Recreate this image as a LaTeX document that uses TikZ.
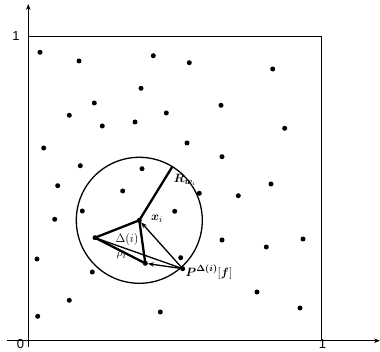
\documentclass[tikz,border=0pt]{standalone}
\usepackage{amsmath}
\usepackage{fontspec}
\newfontfamily\numfont{Liberation Sans}
\usetikzlibrary{arrows.meta}
\begin{document}
\begin{tikzpicture}[x=1pt,y=-1pt,
  dot/.style={circle,fill=black,inner sep=0pt,minimum size=5pt},
  axis/.style={line width=1.2pt,-{Stealth[length=6pt,width=4.5pt]}},
  thickl/.style={line width=2.3pt},
  thinl/.style={line width=1.3pt},
  arr/.style={line width=1.3pt,-{Stealth[length=6pt,width=4.5pt]}},
  num/.style={font=\numfont\fontsize{13}{15}\selectfont,inner sep=0pt},
  lab/.style={inner sep=0pt,font=\fontsize{13}{15}\selectfont}]
\useasboundingbox (0,0) rectangle (380,352);
% axes
\coordinate (xs) at (7,340.7);
\coordinate (xe) at (380,340.7);
\coordinate (ys) at (28.3,347);
\coordinate (ye) at (28.3,4);
\draw[axis] (xs) -- (xe);
\draw[axis] (ys) -- (ye);
% square
\coordinate (tl) at (28.3,36.7);
\coordinate (tr) at (321.7,36.7);
\coordinate (br) at (321.7,340.7);
\draw[line width=1.2pt] (tl) -- (tr) -- (br);
% axis labels
\node[num] (l1y) at (16,36) {1};
\node[num] (l0) at (20.5,344.5) {0};
\node[num] (l1x) at (322.5,344.5) {1};
% dots
\foreach \p [count=\k] in {(40,52.3),(79,61),(153.3,55.7),(189.3,62.7),(272.7,69),
  (141,88.3),(94.3,103),(221,105.3),(69.3,115.3),(166.3,113),(102.3,126),(135,122),
  (284.7,128.3),(43.7,148),(187,143),(222,156.7),(80.3,165.7),(142,168.7),(271,184),
  (57.7,185.7),(122.7,191),(199.3,193.3),(238.3,195.7),(82.3,211),(174.7,211.3),
  (54.7,219.3),(222,240),(303,239),(266.3,247),(180.7,257.7),(37,259),(92.3,272),
  (257,292),(69.3,300.3),(300,308),(160.3,312),(37.7,316.3)}
  \node[dot] (d\k) at \p {};
\node[dot] (xi) at (139.3,220.3) {};
\node[dot] (a) at (95,237.7) {};
\node[dot] (b) at (145.3,263.3) {};
\node[dot] (P) at (182.7,268.7) {};
% circle
\draw[thinl] (xi.center) circle (63pt);
\coordinate (Rw) at (172.3,166.7);
% lines
\draw[thickl] (xi.center) -- (Rw);
\draw[thickl,line join=round] (a.center) -- (xi.center) -- (b.center) -- cycle;
\draw[thinl] (a.center) -- (P.center);
\draw[arr] (P.center) -- (xi);
\draw[arr] (P.center) -- (b);
% labels
\node[lab] (lxi) at (157,219) {$\boldsymbol{x}_i$};
\node[lab] (lrw) at (185,180) {$\boldsymbol{R}_{\boldsymbol{w}_i}$};
\node[lab] (ldelta) at (127,240) {$\Delta(i)$};
\node[lab] (lrho) at (121.5,255) {$\rho_i$};
\node[lab,anchor=west] (lP) at (185.5,272) {$\boldsymbol{P}^{\boldsymbol{\Delta(i)}}[\boldsymbol{f}]$};
\end{tikzpicture}
\end{document}
